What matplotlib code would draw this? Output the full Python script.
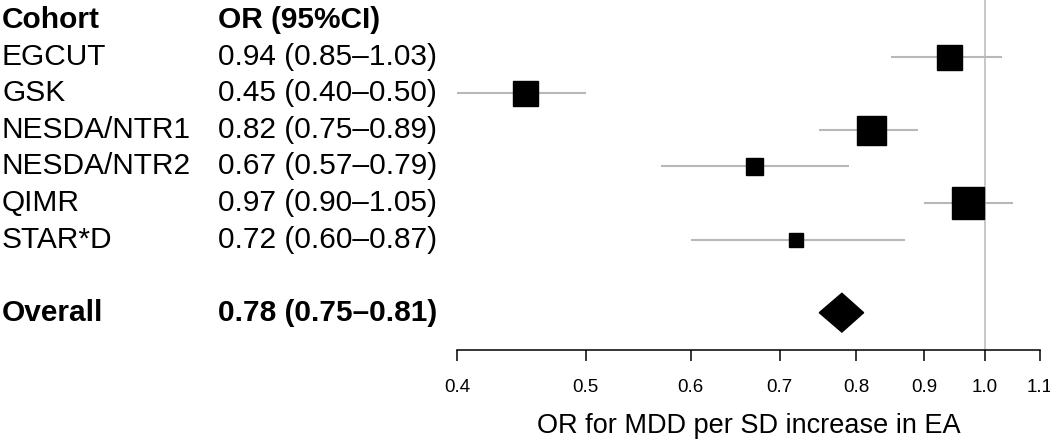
import matplotlib
matplotlib.use("Agg")
import matplotlib.pyplot as plt
from matplotlib.transforms import blended_transform_factory

cohorts = ["EGCUT", "GSK", "NESDA/NTR1", "NESDA/NTR2", "QIMR", "STAR*D"]
or_values = [0.94, 0.45, 0.82, 0.67, 0.97, 0.72]
ci_low = [0.85, 0.40, 0.75, 0.57, 0.90, 0.60]
ci_high = [1.03, 0.50, 0.89, 0.79, 1.05, 0.87]
weights = [25, 25, 29, 17, 32, 14]  # relative study weights (box size)
overall_or = 0.78
overall_low = 0.75
overall_high = 0.81
ticks = [0.4, 0.5, 0.6, 0.7, 0.8, 0.9, 1.0, 1.1]

plt.rcParams['font.family'] = ['Liberation Sans', 'DejaVu Sans']

fig = plt.figure(figsize=(10.5, 4.41), dpi=100)
ax = fig.add_axes([457/1050, 1-350/441, (1040-457)/1050, 350/441])
ax.set_xscale('log')
ax.set_xlim(0.4, 1.1)
ax.set_ylim(9.02, -0.546)

rows = list(range(1, len(cohorts)+1))
overall_row = len(cohorts) + 2

ax.axvline(1.0, color='#c4c4c4', lw=1.3, zorder=1)  # line of no effect

# confidence intervals and boxes
ax.hlines(rows, ci_low, ci_high, color='#b8b8b8', lw=1.5, zorder=2)
for r, o, w in zip(rows, or_values, weights):
    ax.plot(o, r, marker='s', ms=w*0.72, color='black', mec='black', zorder=3)

# diamond for the pooled estimate
h = 0.53
ax.fill([overall_low, overall_or, overall_high, overall_or],
        [overall_row, overall_row-h, overall_row, overall_row+h], color='black', zorder=3)

# axis styling
for s in ['top', 'right', 'left']:
    ax.spines[s].set_visible(False)
ax.spines['bottom'].set_bounds(0.4, 1.1)
ax.spines['bottom'].set_linewidth(1.1)
ax.set_yticks([])
ax.set_xticks(ticks)
ax.set_xticklabels(["%.1f" % t for t in ticks])
ax.minorticks_off()
ax.tick_params(axis='x', direction='out', length=8, width=1.1, labelsize=13.5, pad=13)
ax.set_xlabel("OR for MDD per SD increase in EA", fontsize=19.5, labelpad=12)

# text table on the left
tr = blended_transform_factory(fig.transFigure, ax.transData)
col1 = 2/1050
col2 = 218/1050
fs = 21.5
ax.text(col1, 0, "Cohort", transform=tr, fontsize=fs, fontweight='bold', va='center', clip_on=False)
ax.text(col2, 0, "OR (95%CI)", transform=tr, fontsize=fs, fontweight='bold', va='center', clip_on=False)
for r, c, o, lo, hi in zip(rows, cohorts, or_values, ci_low, ci_high):
    ax.text(col1, r, c, transform=tr, fontsize=fs, va='center', clip_on=False)
    ax.text(col2, r, "%.2f (%.2f\u2013%.2f)" % (o, lo, hi), transform=tr, fontsize=fs, va='center', clip_on=False)
ax.text(col1, overall_row, "Overall", transform=tr, fontsize=fs, fontweight='bold', va='center', clip_on=False)
ax.text(col2, overall_row, "%.2f (%.2f\u2013%.2f)" % (overall_or, overall_low, overall_high),
        transform=tr, fontsize=fs, fontweight='bold', va='center', clip_on=False)

fig.savefig("out.png", dpi=100)
